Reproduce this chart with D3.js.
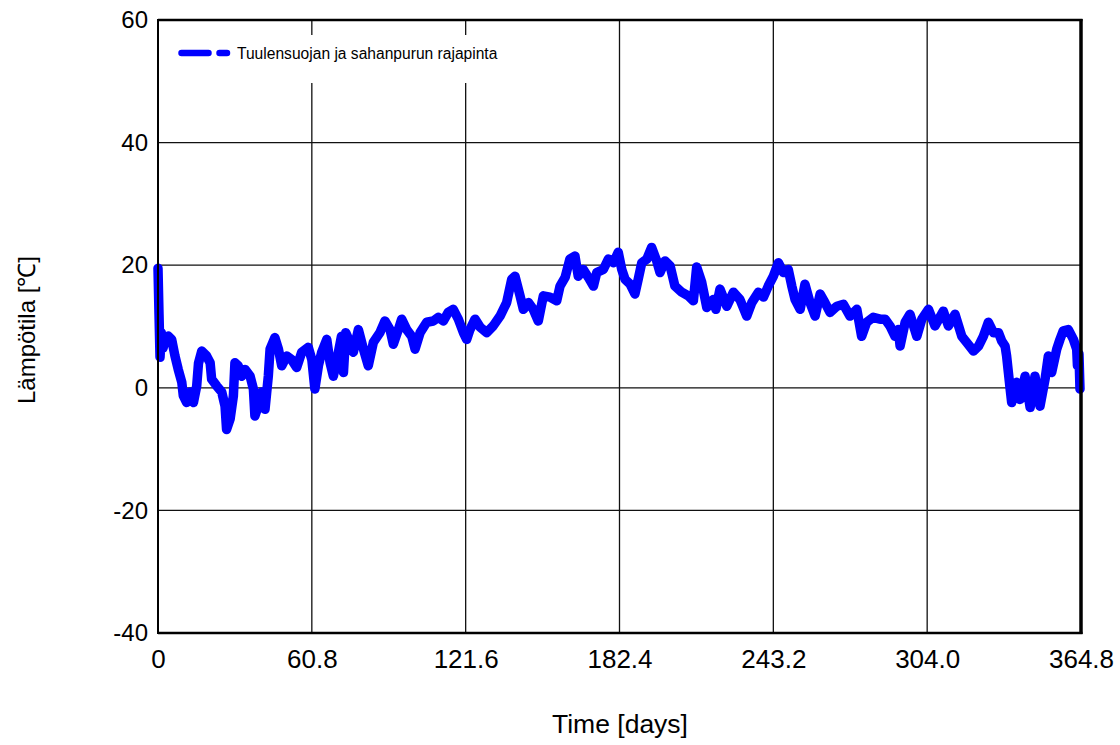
<!DOCTYPE html>
<html>
<head>
<meta charset="utf-8">
<script src="https://cdn.jsdelivr.net/npm/d3@7"></script>
<style>
  html, body { margin: 0; padding: 0; background: #fff; }
  svg { display: block; font-family: "Liberation Sans", Arial, sans-serif; }
</style>
</head>
<body>
<svg id="chart" width="1120" height="745"></svg>
<script>
// Temperature at the windbreak / sawdust interface over one year
const days = [
  0, 0.4, 0.8, 1.3, 2, 3, 4.1, 5.4, 6.7, 8, 9.4, 10, 11.3, 12.6, 14, 15.3, 16, 17.3, 19.2, 20.6,
  21.2, 23.2, 25.2, 26.5, 27.1, 28.5, 29.8, 30.4, 31.7, 33.1, 34.4, 36.4, 37.7, 38.3, 39.6, 41, 42.3, 43.6, 44.3, 46.2,
  47.6, 48.9, 50.9, 52.8, 54.8, 56.8, 59.4, 60.8, 62, 63.4, 64.7, 66.7, 68, 69.3, 71.3, 72.5, 73.3, 74.2, 75.9, 77.2,
  79.2, 81.2, 83.1, 85.1, 87.7, 89.7, 91.7, 93, 95, 96.3, 98.3, 100.3, 101.6, 103.6, 106.2, 108.8, 110.8, 112.8, 114.7, 116.7,
  118.7, 120.7, 122, 123.3, 125.3, 127.3, 129.9, 132.5, 135.2, 137.8, 139.8, 141.1, 143.1, 144.4, 146.4, 148.3, 150.3, 152.3, 154.9, 157.6,
  158.9, 160.9, 162.8, 164.8, 166.1, 168.1, 170.1, 172.1, 173.4, 176, 178, 180, 181.9, 183.3, 184.6, 186.6, 188.5, 189.8, 191.2, 193.2,
  195.1, 197.1, 198.4, 200.4, 202.4, 204.3, 207, 209.6, 211.6, 212.9, 214.9, 216.9, 219.5, 220.5, 222.1, 224.8, 227.4, 230, 232.7, 234.7,
  237.3, 239.3, 241.2, 243.2, 245.2, 247.2, 249.1, 250.5, 251.8, 253.8, 255.7, 257.7, 259.7, 261.7, 263.6, 265.6, 268.3, 270.9, 273.5, 276.2,
  278.1, 280.1, 282.7, 285.4, 287.4, 289.3, 291.3, 292.6, 293.3, 295.3, 297.2, 299.9, 301.9, 304.5, 307.1, 310.4, 312.4, 315, 317.7, 319.6,
  322.3, 324.3, 326.2, 328.2, 330.2, 332.2, 333.5, 334.8, 335.4, 336.1, 336.8, 337.4, 339.4, 340.7, 342.7, 344.7, 346.6, 348.6, 350.6, 351.9,
  353.2, 355.2, 356.5, 357.8, 359.8, 361.8, 363.1, 363.4, 364, 364.4
];
const temps = [
  19.5, 12, 5, 9, 6.5, 8, 8.4, 7.9, 5.2, 3, 0.9, -1.3, -2.4, -0.7, -2.4, 0.3, 4, 6, 5.2, 4.1,
  1.4, 0.3, -0.7, -3, -6.8, -5.1, -1.3, 4.1, 3.6, 1.9, 3, 1.9, -0.2, -4.6, -3, -0.7, -3.5, 1.9, 6.3, 8.2,
  6.3, 3.6, 5.2, 4.6, 3.3, 5.8, 6.6, 4.6, -0.2, 3.6, 5.8, 7.9, 4.1, 1.9, 5.8, 8.4, 2.5, 9, 7.4, 5.8,
  9.5, 6.3, 3.6, 7.4, 9, 10.9, 9.5, 7.1, 9.5, 11.2, 9.5, 8.4, 6.3, 9, 10.7, 10.9, 11.5, 10.9, 12.3, 12.8,
  11.2, 9, 7.9, 9.5, 11.2, 9.9, 9, 10.1, 11.7, 13.9, 17.7, 18.2, 15, 12.8, 13.9, 12.8, 10.9, 15, 14.8, 14.2,
  16.6, 18, 21, 21.5, 18.2, 19.3, 18, 16.6, 18.8, 19.3, 21, 20.4, 22.1, 19.3, 17.7, 16.9, 15.3, 17.7, 20.4, 21,
  22.9, 20.7, 18.8, 20.7, 19.9, 16.6, 15.6, 15, 14.2, 19.7, 17.2, 13.1, 14.4, 12.8, 16.1, 13.3, 15.6, 14.4, 11.7, 13.9,
  15.6, 14.8, 16.6, 18.2, 20.4, 18.8, 19.3, 16.6, 14.4, 12.8, 16.9, 13.9, 11.7, 15.3, 13.9, 12.3, 13.3, 13.6, 11.7, 12.8,
  8.4, 10.7, 11.5, 11.2, 11.2, 10.1, 8.4, 9.5, 6.8, 10.7, 12, 8.4, 11.2, 12.8, 10.1, 12.5, 10.1, 12, 8.4, 7.4,
  6, 6.8, 8.4, 10.7, 9, 9, 7.6, 6.8, 5.2, 2.5, -0.2, -2.4, 0.9, -1.9, 1.9, -3.2, 1.9, -3, 1.4, 5.2,
  2.5, 6.3, 7.9, 9.3, 9.5, 7.9, 6.3, 3.6, 5.5, -0.2
];
const xTicks = [0, 60.8, 121.6, 182.4, 243.2, 304.0, 364.8];
const xTickLabels = ["0", "60.8", "121.6", "182.4", "243.2", "304.0", "364.8"];
const yTicks = [-40, -20, 0, 20, 40, 60];
const yTickLabels = ["-40", "-20", "0", "20", "40", "60"];
const seriesName = "Tuulensuojan ja sahanpurun rajapinta";
const xTitle = "Time [days]";
const yTitle = "Lämpötila [℃]";

const svg = d3.select("#chart");
const plot = { left: 158, right: 1081, top: 20, bottom: 633 };

const x = d3.scaleLinear().domain([0, 364.8]).range([plot.left, plot.right]);
const y = d3.scaleLinear().domain([-40, 60]).range([plot.bottom, plot.top]);

// grid lines
const grid = svg.append("g");
grid.selectAll("line.gx")
  .data(xTicks.slice(1, -1))
  .join("line")
  .attr("x1", d => x(d)).attr("x2", d => x(d))
  .attr("y1", plot.top).attr("y2", plot.bottom)
  .attr("stroke", "#111").attr("stroke-width", 1.3);
grid.selectAll("line.gy")
  .data(yTicks.slice(1, -1))
  .join("line")
  .attr("x1", plot.left).attr("x2", plot.right)
  .attr("y1", d => y(d)).attr("y2", d => y(d))
  .attr("stroke", "#111").attr("stroke-width", 1.3);

// data line
const pts = days.map((d, i) => [d, temps[i]]);
svg.append("path")
  .datum(pts)
  .attr("fill", "none")
  .attr("stroke", "#0000ff")
  .attr("stroke-width", 9.5)
  .attr("stroke-linejoin", "round")
  .attr("stroke-linecap", "round")
  .attr("d", d3.line().x(d => x(d[0])).y(d => y(d[1])));

// frame
const frame = svg.append("g").attr("stroke", "#000").attr("fill", "none");
frame.append("line").attr("x1", plot.left).attr("x2", plot.left).attr("y1", plot.top - 1).attr("y2", plot.bottom + 1).attr("stroke-width", 2);
frame.append("line").attr("x1", plot.left).attr("x2", plot.right + 1.5).attr("y1", plot.top).attr("y2", plot.top).attr("stroke-width", 2.5);
frame.append("line").attr("x1", plot.left).attr("x2", plot.right + 1.5).attr("y1", plot.bottom).attr("y2", plot.bottom).attr("stroke-width", 2.5);
frame.append("line").attr("x1", plot.right).attr("x2", plot.right).attr("y1", plot.top - 1).attr("y2", plot.bottom + 1).attr("stroke-width", 3.5);

// tick labels via d3 axes (no tick marks)
const xAxis = d3.axisBottom(x).tickValues(xTicks).tickFormat((d, i) => xTickLabels[i]).tickSize(0).tickPadding(17);
const gx = svg.append("g").attr("transform", `translate(0,${plot.bottom})`).call(xAxis);
gx.select(".domain").remove();
gx.selectAll("text").attr("font-size", 26).attr("fill", "#000").attr("font-family", "Liberation Sans, Arial, sans-serif");

const yAxis = d3.axisLeft(y).tickValues(yTicks).tickFormat((d, i) => yTickLabels[i]).tickSize(0).tickPadding(10);
const gy = svg.append("g").attr("transform", `translate(${plot.left},0)`).call(yAxis);
gy.select(".domain").remove();
gy.selectAll("text").attr("font-size", 24).attr("fill", "#000").attr("font-family", "Liberation Sans, Arial, sans-serif");

// axis titles
svg.append("text")
  .attr("x", 620).attr("y", 733)
  .attr("text-anchor", "middle")
  .attr("font-size", 26.5)
  .text(xTitle);
svg.append("text")
  .attr("transform", "translate(35,330) rotate(-90)")
  .attr("text-anchor", "middle")
  .attr("font-size", 24)
  .text(yTitle);

// legend
const legend = svg.append("g");
legend.append("rect")
  .attr("x", 166).attr("y", 35).attr("width", 345).attr("height", 48)
  .attr("fill", "#fff");
legend.append("line")
  .attr("x1", 181.5).attr("x2", 227).attr("y1", 53).attr("y2", 53)
  .attr("stroke", "#0000ff").attr("stroke-width", 6.5)
  .attr("stroke-linecap", "round")
  .attr("stroke-dasharray", "27,11,8,99");
legend.append("text")
  .attr("x", 237).attr("y", 53)
  .attr("dominant-baseline", "central")
  .attr("font-size", 15.6)
  .text(seriesName);
</script>
</body>
</html>
